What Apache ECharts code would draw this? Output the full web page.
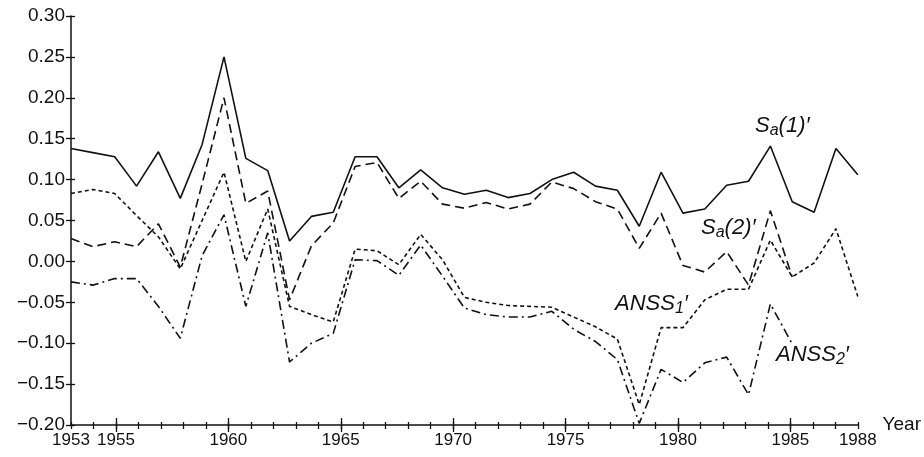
<!DOCTYPE html>
<html>
<head>
<meta charset="utf-8">
<script src="https://cdn.jsdelivr.net/npm/echarts@6/dist/echarts.min.js"></script>
<style>
  html, body { margin: 0; padding: 0; background: #fff; }
  #chart { width: 924px; height: 457px; }
</style>
</head>
<body>
<div id="chart"></div>
<script>
// sample points as drawn along the curves (37 evenly spaced points)
var samples = ['0', '1', '2', '3', '4', '5', '6', '7', '8', '9',
  '10', '11', '12', '13', '14', '15', '16', '17', '18', '19',
  '20', '21', '22', '23', '24', '25', '26', '27', '28', '29',
  '30', '31', '32', '33', '34', '35', '36'];

var yearLabels = [1953, 1955, 1960, 1965, 1970, 1975, 1980, 1985, 1988];
var majorYears = [1955, 1960, 1965, 1970, 1975, 1980, 1985];

var sa1 = [0.138, 0.133, 0.128, 0.092, 0.134, 0.077, 0.143, 0.250, 0.126, 0.111,
  0.025, 0.055, 0.060, 0.128, 0.128, 0.090, 0.112, 0.090, 0.082, 0.087,
  0.078, 0.083, 0.100, 0.109, 0.092, 0.087, 0.043, 0.109, 0.059, 0.064,
  0.093, 0.098, 0.141, 0.073, 0.060, 0.138, 0.106];

var sa2 = [0.028, 0.018, 0.024, 0.018, 0.046, -0.007, 0.095, 0.200, 0.071, 0.086,
  -0.047, 0.019, 0.047, 0.116, 0.121, 0.077, 0.098, 0.070, 0.065, 0.072,
  0.064, 0.070, 0.097, 0.089, 0.073, 0.064, 0.016, 0.059, -0.005, -0.013,
  0.012, -0.029, 0.062, -0.019];

var anss1 = [0.083, 0.088, 0.083, 0.056, 0.030, -0.009, 0.050, 0.109, 0.000, 0.064,
  -0.055, -0.065, -0.074, 0.015, 0.013, -0.004, 0.033, 0.002, -0.044, -0.050,
  -0.054, -0.055, -0.056, -0.068, -0.080, -0.095, -0.175, -0.081, -0.081, -0.047,
  -0.034, -0.034, 0.026, -0.019, -0.002, 0.040, -0.043];

var anss2 = [-0.025, -0.029, -0.021, -0.021, -0.055, -0.094, 0.007, 0.057, -0.055, 0.035,
  -0.123, -0.100, -0.088, 0.002, 0.001, -0.017, 0.020, -0.018, -0.057, -0.065,
  -0.068, -0.068, -0.061, -0.083, -0.098, -0.120, -0.198, -0.132, -0.148, -0.124,
  -0.117, -0.163, -0.052, -0.101];

var ink = '#111';
var font = 'Liberation Sans, Arial, sans-serif';

function tickAxis(opts) {
  var ax = {
    type: 'value',
    min: 1953,
    max: 1988,
    interval: 1,
    position: 'bottom',
    offset: 0,
    axisLine: { show: false, onZero: false },
    axisLabel: { show: false },
    splitLine: { show: false },
    axisTick: { show: true, inside: opts.inside, length: opts.length,
      lineStyle: { color: ink, width: 1.3 } }
  };
  if (opts.values) ax.axisTick.customValues = opts.values;
  return ax;
}

function lineSeries(name, data, dash) {
  return {
    name: name,
    type: 'line',
    xAxisIndex: 1,
    yAxisIndex: 0,
    data: data,
    symbol: 'none',
    silent: true,
    lineStyle: { color: ink, width: 1.6, type: dash }
  };
}

function seriesLabel(main, sub, rest, left, top) {
  return {
    type: 'text',
    left: left,
    top: top,
    style: {
      text: '{m|' + main + '}{s|' + sub + '}{m|' + rest + '}',
      rich: {
        m: { fontFamily: font, fontStyle: 'italic', fontSize: 22, lineHeight: 26,
          fill: ink, color: ink },
        s: { fontFamily: font, fontStyle: 'italic', fontSize: 16, lineHeight: 14,
          verticalAlign: 'bottom', fill: ink, color: ink }
      }
    }
  };
}

var chart = echarts.init(document.getElementById('chart'));
chart.setOption({
  animation: false,
  backgroundColor: '#fff',
  grid: { left: 71, right: 57, top: 16, bottom: 32 },
  xAxis: [
    {
      type: 'value',
      min: 1953,
      max: 1988,
      interval: 1,
      position: 'bottom',
      name: 'Year',
      nameLocation: 'end',
      nameGap: 2,
      nameTextStyle: { fontFamily: font, fontSize: 19, color: ink, padding: [5, 0, 0, 0] },
      axisLine: { onZero: false, lineStyle: { color: ink, width: 1.5 } },
      axisTick: { length: 4, lineStyle: { color: ink, width: 1.3 } },
      axisLabel: {
        customValues: yearLabels, fontFamily: font, fontSize: 17,
        color: ink, margin: 7,
        formatter: function (v) { return String(v); }
      },
      splitLine: { show: false }
    },
    {
      type: 'category',
      data: samples,
      boundaryGap: false,
      show: false,
      position: 'bottom'
    },
    tickAxis({ inside: true, length: 3 }),
    tickAxis({ inside: true, length: 7, values: majorYears }),
    tickAxis({ inside: false, length: 7, values: majorYears })
  ],
  yAxis: [
    {
      type: 'value',
      min: -0.2,
      max: 0.3,
      interval: 0.05,
      position: 'left',
      axisLine: { show: true, onZero: false, lineStyle: { color: ink, width: 1.5 } },
      axisTick: { show: true, length: 5, lineStyle: { color: ink, width: 1.3 } },
      axisLabel: {
        fontFamily: font, fontSize: 19, color: ink, margin: 6,
        formatter: function (v) { return v.toFixed(2).replace('-', '\u2212'); }
      },
      splitLine: { show: false }
    },
    {
      type: 'value',
      min: -0.2,
      max: 0.3,
      interval: 0.05,
      position: 'left',
      offset: 0,
      axisLine: { show: false, onZero: false },
      axisTick: { show: true, inside: true, length: 4, lineStyle: { color: ink, width: 1.3 } },
      axisLabel: { show: false },
      splitLine: { show: false }
    }
  ],
  series: [
    lineSeries("Sa(1)'", sa1, 'solid'),
    lineSeries("Sa(2)'", sa2, [9, 5]),
    lineSeries("ANSS1'", anss1, [4, 3]),
    lineSeries("ANSS2'", anss2, [9, 4, 2, 4])
  ],
  graphic: [
    seriesLabel('S', 'a', "(1)\u2032", 755, 115),
    seriesLabel('S', 'a', "(2)\u2032", 701, 217),
    seriesLabel('ANSS', '1', "\u2032", 615, 293),
    seriesLabel('ANSS', '2', "\u2032", 776, 344)
  ]
});
</script>
</body>
</html>
